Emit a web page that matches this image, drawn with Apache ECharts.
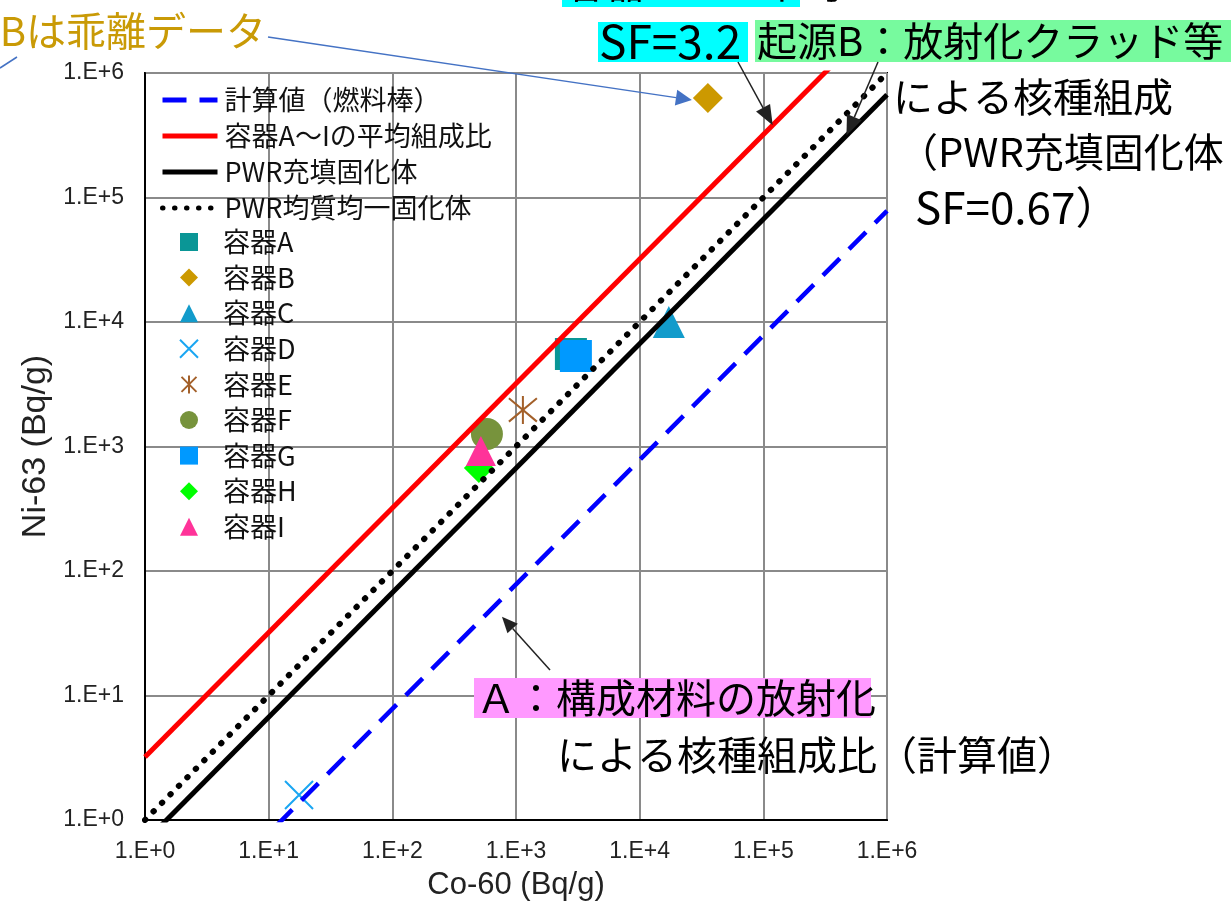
<!DOCTYPE html>
<html>
<head>
<meta charset="utf-8">
<script src="https://cdn.jsdelivr.net/npm/echarts@6/dist/echarts.min.js"></script>
<style>
  html, body { margin: 0; padding: 0; background: #fff; }
  #chart { width: 1231px; height: 907px; }
</style>
</head>
<body>
<div id="chart"></div>
<script>
// 目盛ラベル（10^0 ～ 10^6）
const tickLabels = ['1.E+0', '1.E+1', '1.E+2', '1.E+3', '1.E+4', '1.E+5', '1.E+6'];

// 比例線（Co-60, Ni-63）
const calcLine = [[1, 0.078], [1e6, 78000]];     // 計算値（燃料棒）
const avgLine = [[1, 3.2], [1e6, 3.2e6]];        // 容器A～Iの平均組成比
const fillLine = [[1, 0.67], [1e6, 670000]];     // PWR充填固化体
const homoLine = [[1, 1], [1e6, 1e6]];           // PWR均質均一固化体

// 容器ごとの測定値 [Co-60, Ni-63]
const boxNames = ['容器A', '容器B', '容器C', '容器D', '容器E', '容器F', '容器G', '容器H', '容器I'];
const boxPoints = [
  [2780, 5530],
  [35600, 630000],
  [17200, 10000],
  [17.6, 1.59],
  [1137, 1965],
  [582, 1260],
  [3050, 5330],
  [501, 672],
  [520, 920]
];

const lineNames = ['計算値（燃料棒）', '容器A～Iの平均組成比', 'PWR充填固化体', 'PWR均質均一固化体'];

const jp = '"Noto Sans CJK JP", sans-serif';
const latin = '"Liberation Sans", Arial, sans-serif';

// マーカー設定
const X_PATH = 'path://M0,0L10,10M10,0L0,10';
const STAR_PATH = 'path://M0,0L10,10M10,0L0,10M5,-1L5,11';
const marks = [
  { symbol: 'rect', size: 32, color: '#0A9696' },
  { symbol: 'diamond', size: 30, color: '#CC9900' },
  { symbol: 'triangle', size: 32, color: '#129BCB' },
  { symbol: X_PATH, size: 28, color: '#1AA6F2', stroke: true },
  { symbol: STAR_PATH, size: 28, color: '#A3602A', stroke: true },
  { symbol: 'circle', size: 32, color: '#77933C' },
  { symbol: 'rect', size: 32, color: '#0099FF' },
  { symbol: 'diamond', size: 30, color: '#00FF00' },
  { symbol: 'triangle', size: 30, color: '#FF3399' }
];

function lineSeries(name, data, color, width, type, cap) {
  return {
    name: name,
    type: 'line',
    data: data,
    symbol: 'none',
    clip: true,
    itemStyle: { color: color },
    lineStyle: { color: color, width: width, type: type, cap: cap || 'butt' }
  };
}

const series = [
  lineSeries(lineNames[0], calcLine, '#0000FF', 4.5, [24, 13]),
  lineSeries(lineNames[1], avgLine, '#FF0000', 5, 'solid'),
  lineSeries(lineNames[2], fillLine, '#000000', 5, 'solid'),
  lineSeries(lineNames[3], homoLine, '#000000', 6, [0.5, 11.5], 'round')
];

boxNames.forEach(function (name, i) {
  const m = marks[i];
  series.push({
    name: name,
    type: 'scatter',
    data: [boxPoints[i]],
    symbol: m.symbol,
    symbolSize: m.size,
    itemStyle: m.stroke
      ? { color: 'rgba(0,0,0,0)', borderColor: m.color, borderWidth: 2, opacity: 1 }
      : { color: m.color, opacity: 1 }
  });
});

const legendText = { fontFamily: jp, fontSize: 27, lineHeight: 28, color: '#111' };

const option = {
  animation: false,
  backgroundColor: '#fff',
  grid: {
    left: 145, right: 344, top: 73, bottom: 87,
    show: true, borderColor: '#000', borderWidth: 2, backgroundColor: 'transparent'
  },
  legend: [
    {
      data: lineNames,
      orient: 'vertical',
      left: 160, top: 86, padding: 0,
      itemWidth: 55, itemHeight: 20, itemGap: 8,
      itemStyle: { opacity: 0 },
      lineStyle: { width: 5 },
      textStyle: Object.assign({ padding: [0, 0, 0, 2] }, legendText)
    },
    {
      data: boxNames,
      orient: 'vertical',
      left: 179, top: 228, padding: 0,
      itemWidth: 18, itemHeight: 18, itemGap: 7.6,
      textStyle: Object.assign({ padding: [0, 0, 0, 20] }, legendText)
    }
  ],
  xAxis: {
    type: 'log', logBase: 10, min: 1, max: 1e6,
    name: 'Co-60 (Bq/g)', nameLocation: 'middle', nameGap: 50,
    nameTextStyle: { fontFamily: latin, fontSize: 31, color: '#222' },
    axisLine: { lineStyle: { color: '#000', width: 2 } },
    axisTick: { show: false },
    axisLabel: {
      margin: 20, fontFamily: latin, fontSize: 23, color: '#222',
      formatter: function (v) { return tickLabels[Math.round(Math.log10(v))]; }
    },
    splitLine: { show: true, lineStyle: { color: '#8a8a8a', width: 2 } },
    minorSplitLine: { show: false }
  },
  yAxis: {
    type: 'log', logBase: 10, min: 1, max: 1e6,
    name: 'Ni-63 (Bq/g)', nameLocation: 'middle', nameGap: 86,
    nameTextStyle: { fontFamily: latin, fontSize: 34, color: '#222' },
    axisLine: { lineStyle: { color: '#000', width: 2 } },
    axisTick: { show: false },
    axisLabel: {
      margin: 21, fontFamily: latin, fontSize: 23, color: '#222',
      formatter: function (v) { return tickLabels[Math.round(Math.log10(v))]; }
    },
    splitLine: { show: true, lineStyle: { color: '#8a8a8a', width: 2 } }
  },
  series: series
};

const chart = echarts.init(document.getElementById('chart'), null, { renderer: 'canvas' });
chart.setOption(option);

// ---- 注釈（テキスト・矢印） ----
function px(p) { return chart.convertToPixel({ gridIndex: 0 }, p); }

function arrow(x1, y1, x2, y2, color, w, len, half) {
  const a = Math.atan2(y2 - y1, x2 - x1);
  const bx = x2 - len * Math.cos(a), by = y2 - len * Math.sin(a);
  const nx = -Math.sin(a) * half, ny = Math.cos(a) * half;
  return [
    { type: 'line', silent: true, z: 100, shape: { x1: x1, y1: y1, x2: bx, y2: by }, style: { stroke: color, lineWidth: w } },
    { type: 'polygon', silent: true, z: 100, shape: { points: [[x2, y2], [bx + nx, by + ny], [bx - nx, by - ny]] }, style: { fill: color } }
  ];
}

function label(x, y, text, color, align, size) {
  return {
    type: 'text', silent: true, z: 101, x: x, y: y,
    style: { text: text, fill: color || '#000', font: (size || 40) + 'px ' + jp, textAlign: align || 'left', textVerticalAlign: 'middle' }
  };
}

function box(x, y, w, h, fill) {
  return { type: 'rect', silent: true, z: 100, shape: { x: x, y: y, width: w, height: h }, style: { fill: fill } };
}

const bPx = px(boxPoints[1]);
const redTip = px([1.19e5, 3.8e5]);
const blackTip = px([4.7e5, 3.15e5]);
const blueTip = px([770, 43]);

let g = [];
// 左上：乖離データ
g.push(label(266, 31, 'Bは乖離データ', '#C99A06', 'right'));
g = g.concat(arrow(268, 37, bPx[0] - 16, bPx[1] + 2, '#4472C4', 1.5, 16, 8));
g.push({ type: 'line', silent: true, z: 100, shape: { x1: 17, y1: 57, x2: 0, y2: 68 }, style: { stroke: '#4472C4', lineWidth: 1.5 } });

// 上部：SF=3.2 / 起源B
g.push(box(562, -40, 238, 47, '#00FFFF'));
g.push(label(566, -17, '容器A～Iの平均', '#000'));
g.push(box(598, 22, 150, 40, '#00FFFF'));
g.push(label(599, 42, 'SF=3.2', '#000', 'left', 46));
g.push(box(755, 20, 476, 42, '#77FA9E'));
g.push(label(757, 41, '起源B：放射化クラッド等', '#000'));
g = g.concat(arrow(738, 62, redTip[0], redTip[1], '#222', 1.5, 20, 8));
g = g.concat(arrow(878, 62, blackTip[0], blackTip[1], '#222', 1.5, 20, 8));

// 右側
g.push(label(893, 97, 'による核種組成', '#000'));
g.push(label(898, 152, '（PWR充填固化体', '#000'));
g.push(label(915, 207, 'SF=0.67）', '#000', 'left', 44));

// 下部：A 構成材料
g.push(box(474, 678, 397, 40, '#FF99FF'));
g.push(label(476, 698, 'Ａ：構成材料の放射化', '#000'));
g.push(label(557, 755, 'による核種組成比（計算値）', '#000'));
g = g.concat(arrow(550, 670, blueTip[0], blueTip[1], '#222', 1.5, 16, 7));

chart.setOption({ graphic: { elements: g } });
</script>
</body>
</html>
